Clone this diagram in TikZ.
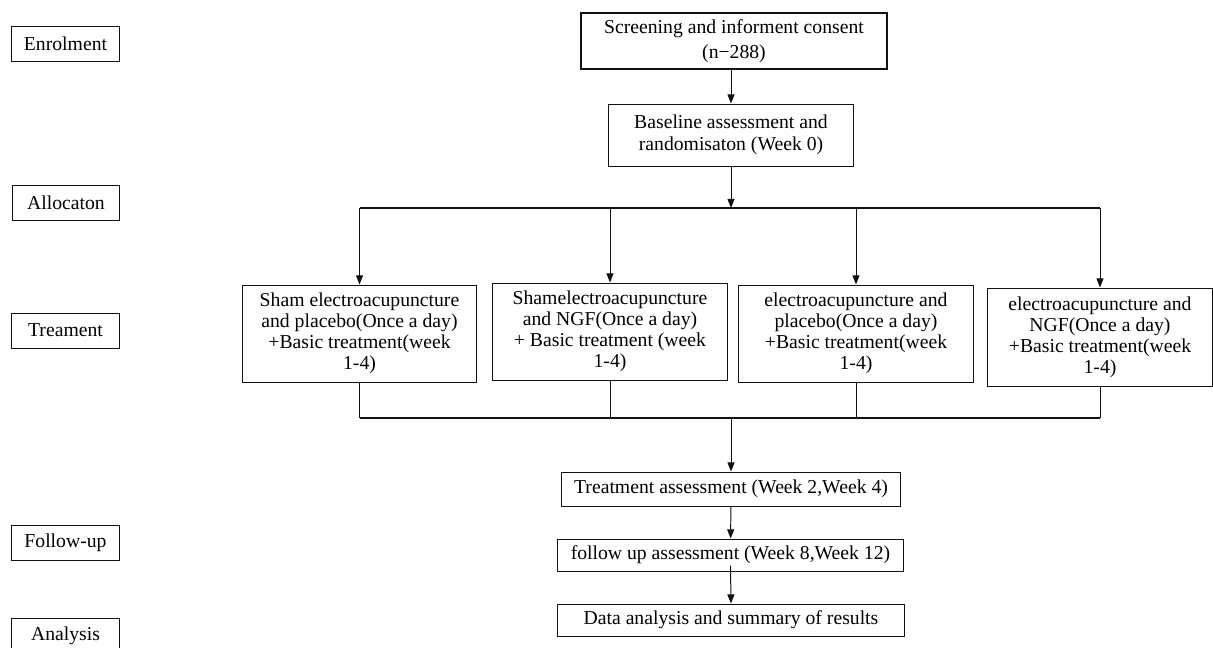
\documentclass[tikz,border=0pt]{standalone}
\usepackage{fontspec}
\setmainfont{Liberation Serif}
\usepackage{tikz}
\usetikzlibrary{arrows.meta, calc, positioning}
\usepackage{xcolor}
\definecolor{fLine}{HTML}{111111}

\begin{document}
\begin{tikzpicture}[x=0.025cm, y=-0.025cm, >={Triangle[length=6.5pt, width=5pt]},
    font=\fontsize{14}{15}\selectfont,
    every node/.style={inner sep=1pt},
    stagebox/.style={draw=fLine, line width=0.7pt, minimum width=2.675cm, minimum height=0.875cm},
    flowbox/.style={draw=fLine, line width=0.7pt, align=center},
    armbox/.style={flowbox, minimum width=5.85cm, minimum height=2.425cm},
    bar/.style={fLine, line width=1.3pt},
    link/.style={fLine, line width=0.7pt, ->}]
  \useasboundingbox (0,0) rectangle (1213,647);
  % stages on the left
  \node[stagebox] (enrol)  at (65.5,43.5)  {Enrolment};
  \node[stagebox] (alloc)  at (66,202.5)   {Allocaton};
  \node[stagebox] (treat)  at (65.5,330.5) {Treament};
  \node[stagebox] (follow) at (65.5,543)   {Follow-up};
  \node[stagebox, anchor=north] (anal) at (65.5,618) {Analysis};
  % enrolment and randomisation
  \node[flowbox, line width=1.3pt, minimum width=7.65cm, minimum height=1.4cm] (screen) at (734,41)
    {Screening and informent consent\\[3pt](n−288)};
  \node[flowbox, minimum width=6.1cm, minimum height=1.55cm] (base) at (731,135)
    {Baseline assessment and\\[1pt]randomisaton (Week 0)};
  \draw[link] (screen.south -| base) -- (base.north);
  % four arms
  \node[armbox] (arm1) at (359.5,333.5)
    {Sham electroacupuncture\\and placebo(Once a day)\\+Basic treatment(week\\1-4)};
  \node[armbox] (arm2) at (610,331.5)
    {Shamelectroacupuncture\\and NGF(Once a day)\\+ Basic treatment (week\\1-4)};
  \node[armbox] (arm3) at (856,333.5)
    {electroacupuncture and\\placebo(Once a day)\\+Basic treatment(week\\1-4)};
  \node[armbox, minimum width=5.6cm, minimum height=2.45cm] (arm4) at (1100,337)
    {electroacupuncture and\\NGF(Once a day)\\+Basic treatment(week\\1-4)};
  \coordinate (splitL) at (359.5,208);
  \coordinate (splitR) at (1100,208);
  \coordinate (joinL) at (359.5,418);
  \coordinate (joinR) at (1100,418);
  \draw[link] (base) -- (base |- splitL);
  \draw[bar] (splitL) -- (splitR);
  \draw[bar] (joinL) -- (joinR);
  \foreach \a in {arm1, arm2, arm3, arm4} {
    \draw[link] (splitL -| \a) -- (\a.north);
    \draw[fLine, line width=0.7pt] (\a.south) -- (joinL -| \a);
  }
  % assessments
  \node[flowbox, minimum width=8.45cm, minimum height=0.85cm] (tassess) at (731,489)
    {Treatment assessment (Week 2,Week 4)};
  \node[flowbox, minimum width=8.625cm, minimum height=0.8cm] (fassess) at (730.5,555)
    {follow up assessment (Week 8,Week 12)};
  \node[flowbox, minimum width=8.65cm, minimum height=0.8cm] (data) at (731,620)
    {Data analysis and summary of results};
  \draw[link] (joinL -| tassess) -- (tassess.north);
  \draw[link] (tassess) -- (fassess);
  \draw[link] ($(fassess.south)+(0,-6)$) -- (data.north);
\end{tikzpicture}
\end{document}
